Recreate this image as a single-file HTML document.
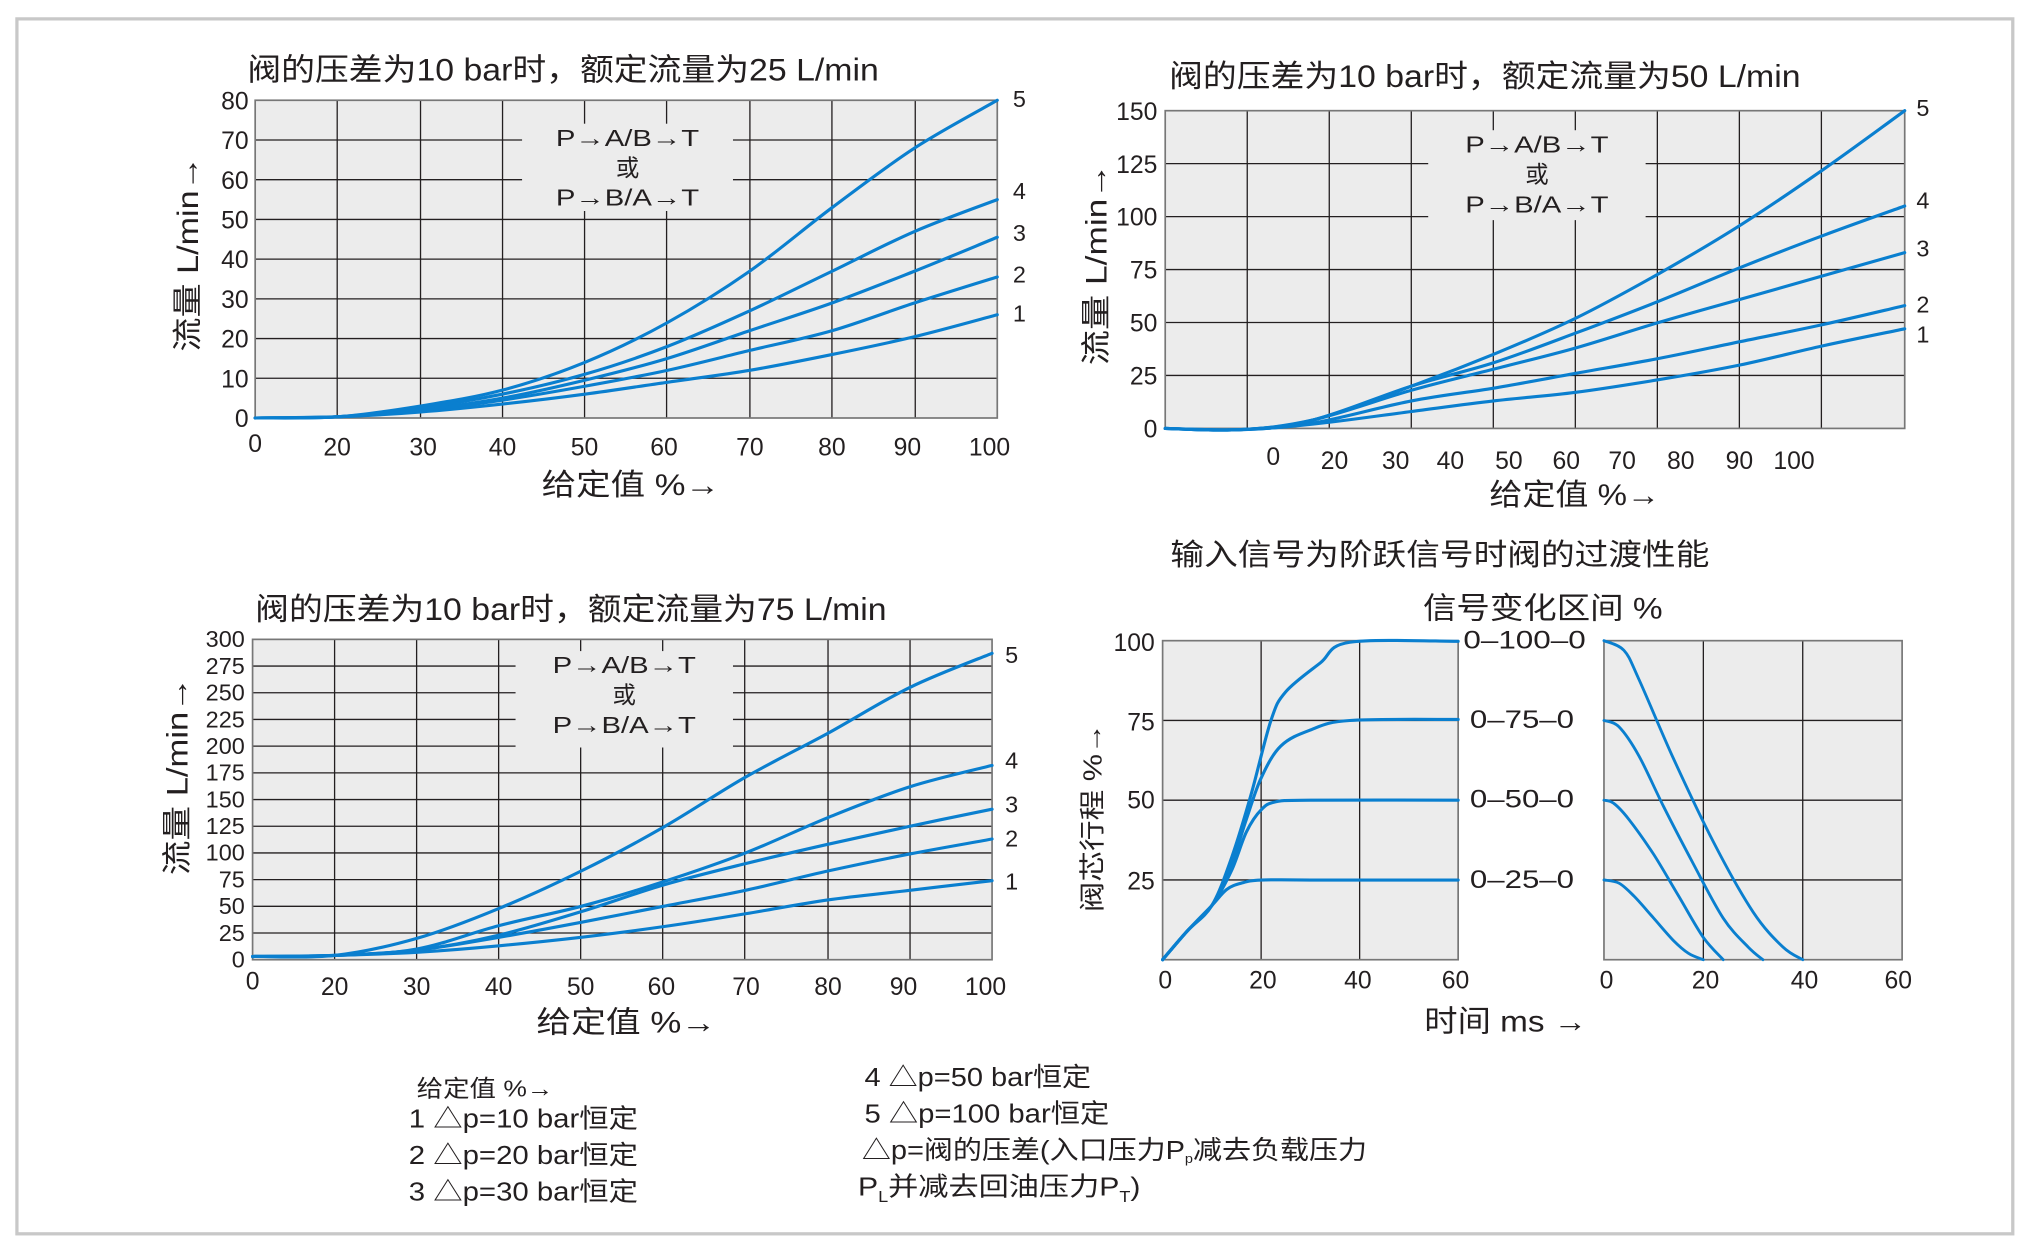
<!DOCTYPE html>
<html><head><meta charset="utf-8"><style>
html,body{margin:0;padding:0;background:#fff}
svg{display:block}
text{font-family:"Liberation Sans","Noto Sans CJK SC",sans-serif;fill:#231f20}
</style></head><body>
<svg id="s" width="2031" height="1254" viewBox="0 0 1560 963" preserveAspectRatio="none" xmlns="http://www.w3.org/2000/svg">
<rect x="13" y="14.5" width="1533" height="933" fill="#fff" stroke="#c8c8c8" stroke-width="2.5"/>
<g id="g"></g>
</svg>
<script>
const NS="http://www.w3.org/2000/svg",G=document.getElementById('g');
function el(t,a,txt){const e=document.createElementNS(NS,t);for(const k in a)e.setAttribute(k,a[k]);if(txt!==undefined)e.textContent=txt;G.appendChild(e);return e;}
function line(x1,y1,x2,y2,c,w){el('line',{x1,y1,x2,y2,stroke:c||'#231f20','stroke-width':w||1});}
function txt(x,y,s,fs,anchor,extra,len){const a={x,y,'font-size':fs,'text-anchor':anchor||'start'};Object.assign(a,extra||{});if(len){a.textLength=len;a.lengthAdjust='spacingAndGlyphs';}return el('text',a,s);}
function htxt(x,y,html,fs,len){const e=el('text',{x,y,'font-size':fs,textLength:len,lengthAdjust:'spacingAndGlyphs'});e.innerHTML=html;return e;}
function cr(pts){let d='M'+pts[0][0]+','+pts[0][1];for(let i=0;i<pts.length-1;i++){const p0=pts[i-1]||pts[i],p1=pts[i],p2=pts[i+1],p3=pts[i+2]||p2;
const c1=[p1[0]+(p2[0]-p0[0])/6,p1[1]+(p2[1]-p0[1])/6],c2=[p2[0]-(p3[0]-p1[0])/6,p2[1]-(p3[1]-p1[1])/6];
d+=' C'+c1[0].toFixed(1)+','+c1[1].toFixed(1)+' '+c2[0].toFixed(1)+','+c2[1].toFixed(1)+' '+p2[0].toFixed(1)+','+p2[1].toFixed(1);}return d;}
function curve(pts,w){el('path',{d:cr(pts),fill:'none',stroke:'#0a7fcf','stroke-width':w||2.4,'stroke-linecap':'round'});}
function flowChart(o){
 const {x0,x1,y0,y1,vx,hy,box}=o;
 el('rect',{x:x0,y:y0,width:x1-x0,height:y1-y0,fill:'#ececec'});
 hy.forEach(y=>{if(y>box[1]&&y<box[3]){line(x0,y,box[0],y);line(box[2],y,x1,y);}else line(x0,y,x1,y);});
 vx.forEach(x=>{if(x>box[0]&&x<box[2]){line(x,y0,x,box[1]);line(x,box[3],x,y1);}else line(x,y0,x,y1);});
 el('rect',{x:x0,y:y0,width:x1-x0,height:y1-y0,fill:'none',stroke:'#777','stroke-width':1.3});
 const cx=(box[0]+box[2])/2;
 txt(cx,box[1]+17,'P→A/B→T',18,'middle',{},110);txt(cx,box[1]+40,'或',18,'middle');txt(cx,box[1]+63,'P→B/A→T',18,'middle',{},110);
}
// Chart 1
(function(){
 const x0=196,x1=766,y0=77,y1=321;const xs=[0,20,30,40,50,60,70,80,90,100];
 const vx=[259,323,386,449,512,576,639,703];const hy=[];for(let i=1;i<8;i++)hy.push(y1-i*(y1-y0)/8);
 flowChart({x0,x1,y0,y1,vx,hy,box:[401,95,563,162]});
 const X=v=>v<=20?x0+(259-x0)*v/20:259+(v-20)*(x1-259)/80,Y=v=>y1-v*(y1-y0)/80;
 const D=[[0,0.3,1.5,3.5,6,9,12,16,20.5,26],[0,0.3,1.8,4.5,8,12,17,22,29,35.5],[0,0.3,2,5,9.5,15,22,29,37,45.5],[0,0.3,2.5,6,11,18,27,37,47,55],[0,0.3,3,7,14,24,37,53,68,80]];
 D.forEach(d=>curve(d.map((v,i)=>[X(xs[i]),Y(v)])));
 for(let i=0;i<=8;i++)txt(191,Y(i*10)+7,String(i*10),19,'end');
 [[196,0],[259,20],[325,30],[386,40],[449,50],[510,60],[576,70],[639,80],[697,90],[760,100]].forEach(a=>txt(a[0],a[1]==0?347:350,String(a[1]),19,'middle'));
 [[5,82],[4,153],[3,185],[2,217],[1,247]].forEach(a=>txt(778,a[1],String(a[0]),18));
 txt(190,62,'阀的压差为10 bar时，额定流量为25 L/min',24,'start',{},485);
 txt(416,380,'给定值  %→',23,'start',{},137);
 txt(152,195,'流量  L/min→',23,'middle',{transform:'rotate(-90 152 195)'},150);
})();
// Chart 2
(function(){
 const x0=895,x1=1463,y0=85,y1=329;const vx=[958,1021,1084,1147,1210,1273,1336,1399];
 const hy=[];for(let i=1;i<6;i++)hy.push(y1-i*(y1-y0)/6);
 flowChart({x0,x1,y0,y1,vx,hy,box:[1097,100,1264,169]});
 const us=[0,.1,.2,.333,.444,.555,.667,.778,.889,1];const X=u=>x0+u*(x1-x0),Y=v=>y1-v*(y1-y0)/150;
 const D=[[0,-0.6,2,8,13,17,23,30,39,47],[0,-0.6,2.5,13,19,26,33,41,49,58],[0,-0.6,4,18,28,38,50,61,72,83],[0,-0.6,4,20,31,45,60,76,91,105],[0,-0.6,4,20,35,52,73,96,122,150]];
 D.forEach(d=>curve(d.map((v,i)=>[X(us[i]),Y(v)])));
 [0,25,50,75,100,125,150].forEach(v=>txt(889,Y(v)+7,String(v),19,'end'));
 [[978,0],[1025,20],[1072,30],[1114,40],[1159,50],[1203,60],[1246,70],[1291,80],[1336,90],[1378,100]].forEach(a=>txt(a[0],a[1]==0?357:360,String(a[1]),19,'middle'));
 [[5,89],[4,160],[3,197],[2,240],[1,263]].forEach(a=>txt(1472,a[1],String(a[0]),18));
 txt(898,67,'阀的压差为10 bar时，额定流量为50 L/min',24,'start',{},485);
 txt(1144,388,'给定值 %→',23,'start',{},131);
 txt(850,203,'流量  L/min→',23,'middle',{transform:'rotate(-90 850 203)'},155);
})();
// Chart 3
(function(){
 const x0=194,x1=762,y0=491,y1=737;const xs=[0,20,30,40,50,60,70,80,90,100];
 const vx=[257,320,383,446,509,572,636,699];const hy=[];for(let i=1;i<12;i++)hy.push(y1-i*(y1-y0)/12);
 flowChart({x0,x1,y0,y1,vx,hy,box:[396,500,563,574]});
 const X=v=>v<=20?x0+(257-x0)*v/20:257+(v-20)*(x1-257)/80,Y=v=>y1-v*(y1-y0)/300;
 const D=[[3,4,7,13,21,31,43,56,65,74],[3,4,9,21,35,50,65,83,99,113],[3,4,9,23,45,70,90,108,125,141],[3,4,10,32,50,73,100,133,162,182],[3,4,20,48,83,124,171,212,255,287]];
 D.forEach(d=>curve(d.map((v,i)=>[X(xs[i]),Y(v)])));
 for(let i=0;i<=12;i++)txt(188,Y(i*25)+6,String(i*25),18,'end');
 [[194,0],[257,20],[320,30],[383,40],[446,50],[508,60],[573,70],[636,80],[694,90],[757,100]].forEach(a=>txt(a[0],a[1]==0?760:764,String(a[1]),19,'middle'));
 [[5,509],[4,590],[3,624],[2,650],[1,683]].forEach(a=>txt(772,a[1],String(a[0]),18));
 txt(196,476,'阀的压差为10 bar时，额定流量为75 L/min',24,'start',{},485);
 txt(412,793,'给定值  %→',23,'start',{},138);
 txt(144,596,'流量  L/min→',23,'middle',{transform:'rotate(-90 144 596)'},152);
})();
// Chart 4 step response
(function(){
 const y0=492,y1=737;const Y=v=>y1-v*(y1-y0)/100;
 function panel(x0,x1){el('rect',{x:x0,y:y0,width:x1-x0,height:y1-y0,fill:'#ececec'});
  [25,50,75].forEach(v=>line(x0,Y(v),x1,Y(v)));
  [20,40].forEach(t=>{const x=x0+t*(x1-x0)/60;line(x,y0,x,y1);});
  el('rect',{x:x0,y:y0,width:x1-x0,height:y1-y0,fill:'none',stroke:'#777','stroke-width':1.3});}
 const L0=893,L1=1120,R0=1232,R1=1461;panel(L0,L1);panel(R0,R1);
 const XL=t=>L0+t*(L1-L0)/60,XR=t=>R0+t*(R1-R0)/60;
 const up=[
  [[0,0],[5,9],[10,17],[13,22],[16,24],[20,25],[30,25],[60,25]],
  [[0,0],[5,9],[10,17],[14,28],[17,40],[20,47],[23,49.5],[30,50],[60,50]],
  [[0,0],[5,9],[10,17],[14,30],[17,44],[20,57],[24,67],[30,72],[38,75],[60,75.3]],
  [[0,0],[5,9],[10,17],[14,32],[18,52],[22,75],[25,84],[32,93],[38,99.5],[60,99.8]]];
 up.forEach(c=>curve(c.map(p=>[XL(p[0]),Y(p[1])]),2.4));
 const dn=[
  [[0,25],[3,24],[6,20],[10,13],[14,6],[17,2],[20,0]],
  [[0,50],[2,49],[5,44],[10,33],[15,20],[20,7],[24,0]],
  [[0,75],[3,73],[7,64],[12,48],[18,30],[24,13],[29,4],[32,0]],
  [[0,100],[4,97],[7,88],[14,63],[22,37],[30,15],[36,4],[40,0]]];
 dn.forEach(c=>curve(c.map(p=>[XR(p[0]),Y(p[1])]),2.2));
 [[100,500],[75,561],[50,621],[25,683]].forEach(a=>txt(887,a[1],String(a[0]),19,'end'));
 [[0,895],[20,970],[40,1043],[60,1118]].forEach(a=>txt(a[1],759,String(a[0]),19,'middle'));
 [[0,1234],[20,1310],[40,1386],[60,1458]].forEach(a=>txt(a[1],759,String(a[0]),19,'middle'));
 txt(1124,498,'0–100–0',19,'start',{},94);
 [['0–75–0',559],['0–50–0',620],['0–25–0',682]].forEach(a=>txt(1129,a[1],a[0],19,'start',{},80));
 txt(899,434,'输入信号为阶跃信号时阀的过渡性能',23,'start',{},414);
 txt(1093,475,'信号变化区间 %',23,'start',{},184);
 txt(1094,792,'时间 ms →',23,'start',{},125);
 txt(846,628,'阀芯行程 %→',20,'middle',{transform:'rotate(-90 846 628)'},145);
})();
// Legend text
txt(320,842,'给定值  %→',18,'start',{},105);
txt(314,866,'1 △p=10 bar恒定',20,'start',{},176);
txt(314,894,'2 △p=20 bar恒定',20,'start',{},176);
txt(314,922,'3 △p=30 bar恒定',20,'start',{},176);
txt(664,834,'4 △p=50 bar恒定',20,'start',{},174);
txt(664,862,'5 △p=100 bar恒定',20,'start',{},188);
htxt(662,890,'△p=阀的压差(入口压力P<tspan font-size="10" dy="3">p</tspan><tspan dy="-3">减去负载压力</tspan>',20,388);
htxt(659,918,'P<tspan font-size="12" dy="5">L</tspan><tspan dy="-5">并减去回油压力P</tspan><tspan font-size="12" dy="5">T</tspan><tspan dy="-5">)</tspan>',20,217);
</script>
</body></html>
